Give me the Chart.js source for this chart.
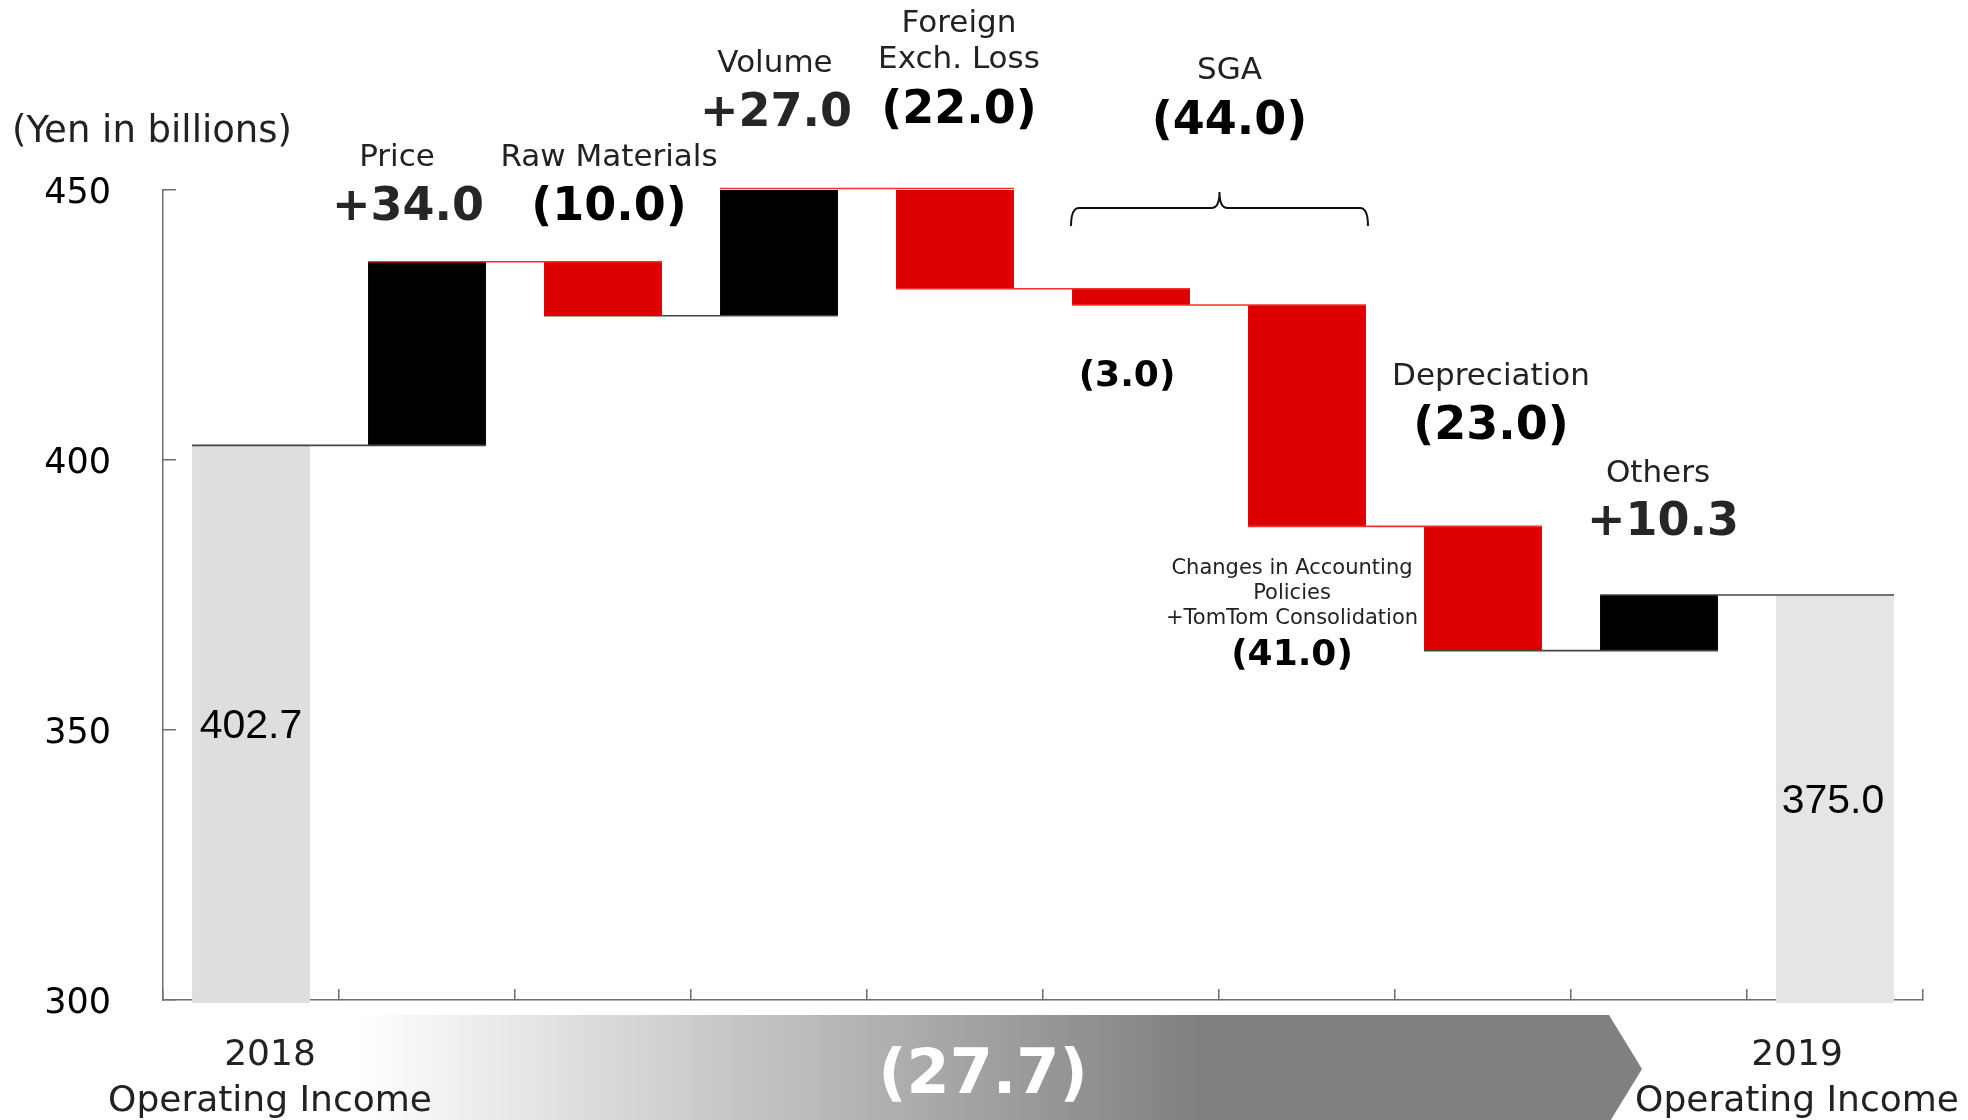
<!DOCTYPE html>
<html>
<head>
<meta charset="utf-8">
<script src="https://cdn.jsdelivr.net/npm/chart.js@4.4.1/dist/chart.umd.min.js"></script>
<style>
  html, body { margin: 0; padding: 0; background: #fff; }
  #wrap { width: 1968px; height: 1120px; }
</style>
</head>
<body>
<div id="wrap"><canvas id="chart"></canvas></div>
<script>
// Operating income bridge, yen in billions
const startCaption = ["2018", "Operating Income"];
const endCaption = ["2019", "Operating Income"];
const startValue = 402.7;
const endValue = 375.0;
const stepNames = ["Price", "Raw Materials", "Volume", "Foreign Exch. Loss", "SGA", "SGA", "Depreciation", "Others"];
const stepCaptions = [
  ["Price"],
  ["Raw Materials"],
  ["Volume"],
  ["Foreign", "Exch. Loss"],
  [],
  ["Changes in Accounting", "Policies", "+TomTom Consolidation"],
  ["Depreciation"],
  ["Others"],
];
const stepDeltas = [34.0, -10.0, 27.0, -22.0, -3.0, -41.0, -23.0, 10.3];
const sgaSteps = [4, 5];
const yTicks = [300, 350, 400, 450];
const unitLabel = "(Yen in billions)";

const FONT = "'DejaVu Sans', Verdana, sans-serif";
const RED = "#dd0000";
const AXIS = "#6e6e6e";

const categories = [startCaption.join(" "), ...stepNames, endCaption.join(" ")];

// running level after each step
const levels = [startValue];
stepDeltas.forEach((d) => levels.push(Math.round((levels[levels.length - 1] + d) * 10) / 10));

const barData = [[0, startValue]];
stepDeltas.forEach((d, i) => barData.push([levels[i], levels[i + 1]]));
barData.push([0, endValue]);

const barColors = ["#dedede", ...stepDeltas.map((d) => (d >= 0 ? "#000000" : RED)), "#e5e5e5"];

const fmt = (d) => (d >= 0 ? "+" + d.toFixed(1) : "(" + Math.abs(d).toFixed(1) + ")");
const sgaTotal = sgaSteps.reduce((s, i) => s + stepDeltas[i], 0);
const totalChange = endValue - startValue;

// where the captions sit: dx from the category centre, y in canvas pixels
const stepLayout = [
  { dx: -30, nameY: 158, vdx: -19, valueY: 208, big: true },
  { dx: 6, nameY: 158, vdx: 6, valueY: 208, big: true },
  { dx: -4, nameY: 64, vdx: -3, valueY: 114, big: true },
  { dx: 4, nameY: 24, vdx: 4, valueY: 111, big: true },
  { dx: -4, nameY: 0, vdx: -4, valueY: 377, big: false },
  { dx: -15, nameY: 569, vdx: -15, valueY: 656, big: false, small: true },
  { dx: 8, nameY: 377, vdx: 8, valueY: 427, big: true },
  { dx: -1, nameY: 474, vdx: 4, valueY: 523, big: true },
];

const text = (ctx, str, x, y, font, color, align = "center") => {
  ctx.save();
  ctx.font = font;
  ctx.fillStyle = color;
  ctx.textAlign = align;
  ctx.textBaseline = "middle";
  ctx.fillText(str, x, y);
  ctx.restore();
};

const connectors = {
  id: "connectors",
  afterDatasetsDraw(chart) {
    const { ctx, chartArea } = chart;
    const y = chart.scales.y;
    const bars = chart.getDatasetMeta(0).data;
    ctx.save();
    for (let i = 0; i < bars.length - 1; i++) {
      const next = i + 1;
      const isRed = next <= stepDeltas.length && stepDeltas[next - 1] < 0;
      const py = Math.max(y.getPixelForValue(levels[i]), chartArea.top - 1.5);
      ctx.beginPath();
      ctx.strokeStyle = isRed ? "#f03030" : "#454545";
      ctx.lineWidth = 1.6;
      ctx.moveTo(bars[i].x - bars[i].width / 2, py);
      ctx.lineTo(bars[next].x + bars[next].width / 2, py);
      ctx.stroke();
    }
    ctx.restore();
  },
};

const annotations = {
  id: "annotations",
  afterDraw(chart) {
    const { ctx } = chart;
    const x = chart.scales.x;
    const bars = chart.getDatasetMeta(0).data;
    const cx = (i) => x.getPixelForValue(i);

    text(ctx, unitLabel, 12, 132, `37px ${FONT}`, "#222", "left");

    stepDeltas.forEach((d, i) => {
      const cat = i + 1;
      const lay = stepLayout[i];
      const lines = stepCaptions[i];
      const nameFont = lay.small ? `21px ${FONT}` : `31px ${FONT}`;
      const gap = lay.small ? 25 : 36;
      lines.forEach((line, k) => text(ctx, line, cx(cat) + lay.dx, lay.nameY + k * gap, nameFont, "#222"));
      const vFont = lay.big ? `bold 46px ${FONT}` : `bold 36px ${FONT}`;
      text(ctx, fmt(d), cx(cat) + lay.vdx, lay.valueY, vFont, d >= 0 ? "#262626" : "#000");
    });

    // SGA brace spanning its two bars
    const b0 = bars[sgaSteps[0] + 1];
    const b1 = bars[sgaSteps[1] + 1];
    const left = b0.x - b0.width / 2 - 1;
    const right = b1.x + b1.width / 2 + 2;
    const mid = (left + right) / 2;
    const top = 192, line = 208, foot = 226, r = 8;
    ctx.save();
    ctx.strokeStyle = "#111";
    ctx.lineWidth = 2;
    ctx.beginPath();
    ctx.moveTo(left, foot);
    ctx.quadraticCurveTo(left, line, left + r, line);
    ctx.lineTo(mid - r, line);
    ctx.quadraticCurveTo(mid, line, mid, top);
    ctx.quadraticCurveTo(mid, line, mid + r, line);
    ctx.lineTo(right - r, line);
    ctx.quadraticCurveTo(right, line, right, foot);
    ctx.stroke();
    ctx.restore();
    text(ctx, "SGA", mid + 10, 71, `31px ${FONT}`, "#222");
    text(ctx, fmt(sgaTotal), mid + 10, 122, `bold 46px ${FONT}`, "#000");

    // totals inside the grey bars
    const last = categories.length - 1;
    text(ctx, startValue.toFixed(1), cx(0), 727, "41px 'Liberation Sans', Arial, sans-serif", "#000");
    text(ctx, endValue.toFixed(1), cx(last) - 2, 802, "41px 'Liberation Sans', Arial, sans-serif", "#000");

    // gradient arrow for the total change
    ctx.save();
    const g = ctx.createLinearGradient(357, 0, 1200, 0);
    g.addColorStop(0, "#ffffff");
    g.addColorStop(1, "#808080");
    ctx.fillStyle = g;
    ctx.beginPath();
    ctx.moveTo(330, 1015);
    ctx.lineTo(1609, 1015);
    ctx.lineTo(1642, 1069);
    ctx.lineTo(1609, 1123);
    ctx.lineTo(330, 1123);
    ctx.closePath();
    ctx.fill();
    ctx.restore();
    text(ctx, fmt(totalChange), 983, 1077, `bold 62px ${FONT}`, "#fff");

    // first and last category captions
    startCaption.forEach((s, k) => text(ctx, s, cx(0) + 19, 1056 + k * 46, `36px ${FONT}`, "#222"));
    endCaption.forEach((s, k) => text(ctx, s, cx(last) - 38, 1056 + k * 46, `36px ${FONT}`, "#222"));
  },
};

new Chart(document.getElementById("chart"), {
  type: "bar",
  data: {
    labels: categories,
    datasets: [
      {
        data: barData,
        backgroundColor: barColors,
        borderWidth: 0,
        categoryPercentage: 1,
        barPercentage: 0.67,
        clip: { left: 0, top: 0, right: 0, bottom: 3 },
      },
    ],
  },
  options: {
    responsive: true,
    maintainAspectRatio: false,
    animation: false,
    layout: { padding: { left: 0, top: 190, right: 45, bottom: 0 } },
    plugins: {
      legend: { display: false },
      tooltip: { enabled: false },
    },
    scales: {
      x: {
        z: 1,
        offset: true,
        grid: {
          offset: true,
          drawOnChartArea: false,
          tickLength: -11,
          color: AXIS,
          lineWidth: 1.5,
        },
        border: { color: AXIS, width: 1.5 },
        ticks: { display: false },
        afterFit: (scale) => {
          scale.height = 120;
        },
      },
      y: {
        z: 1,
        min: yTicks[0],
        max: yTicks[yTicks.length - 1],
        afterBuildTicks: (scale) => {
          scale.ticks = yTicks.map((v) => ({ value: v }));
        },
        grid: {
          drawOnChartArea: false,
          tickLength: -13,
          color: AXIS,
          lineWidth: 1.5,
        },
        border: { color: AXIS, width: 1.5 },
        ticks: {
          padding: 65,
          labelOffset: 4,
          color: "#000",
          font: { family: FONT, size: 35 },
        },
        afterFit: (scale) => {
          scale.width = 163;
        },
      },
    },
  },
  plugins: [connectors, annotations],
});
</script>
</body>
</html>
